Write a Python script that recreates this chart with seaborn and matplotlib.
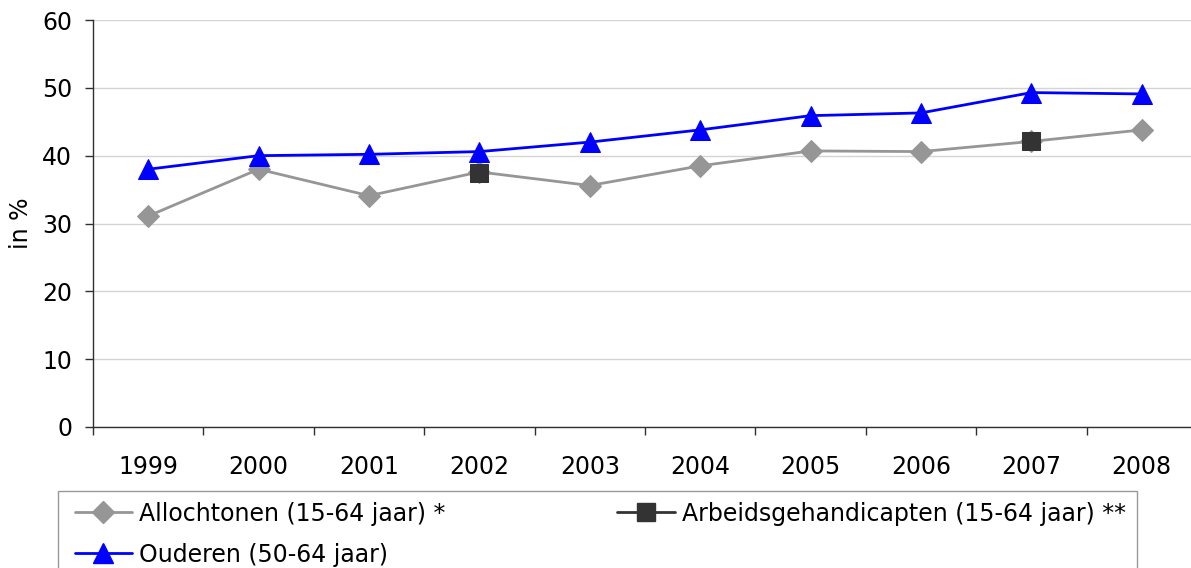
import numpy as np
import pandas as pd
import matplotlib.pyplot as plt
import seaborn as sns
from matplotlib.lines import Line2D
from matplotlib.legend_handler import HandlerLine2D

years = ["1999", "2000", "2001", "2002", "2003", "2004", "2005", "2006", "2007", "2008"]
allochtonen = [31.1, 38.0, 34.1, 37.6, 35.6, 38.5, 40.7, 40.6, 42.1, 43.8]
arbeidsgehandicapten = [np.nan, np.nan, np.nan, 37.5, np.nan, np.nan, np.nan, np.nan, 42.2, np.nan]
ouderen = [38.0, 40.0, 40.2, 40.6, 42.0, 43.8, 45.9, 46.3, 49.3, 49.1]

lbl_allo = "Allochtonen (15-64 jaar) *"
lbl_arb = "Arbeidsgehandicapten (15-64 jaar) **"
lbl_oud = "Ouderen (50-64 jaar)"

df = pd.DataFrame({
    "year": years,
    "allo": allochtonen,
    "arb": arbeidsgehandicapten,
    "oud": ouderen,
})
df["pos"] = range(len(years))

sns.set_style("white")
plt.rcParams["font.family"] = ["DejaVu Sans"]
plt.rcParams["font.size"] = 17
plt.rcParams["text.color"] = "black"
plt.rcParams["axes.labelcolor"] = "black"
plt.rcParams["xtick.labelcolor"] = "black"
plt.rcParams["ytick.labelcolor"] = "black"

c_gray = "#969696"
c_dark = "#333333"
c_blue = "#0000ff"

fig = plt.figure(figsize=(11.91, 5.68), dpi=100)
ax = fig.add_axes([93 / 1191, 141 / 568, 1104 / 1191, 407 / 568])

sns.lineplot(data=df, x="pos", y="allo", ax=ax, color=c_gray, linewidth=2,
             marker="D", markersize=11, markeredgecolor=c_gray, zorder=3)
pts = df.dropna(subset=["arb"])
sns.lineplot(data=pts, x="pos", y="arb", ax=ax, color=c_dark, linestyle="",
             marker="s", markersize=13.5, markeredgecolor=c_dark, zorder=4)
sns.lineplot(data=df, x="pos", y="oud", ax=ax, color=c_blue, linewidth=2,
             marker="^", markersize=14, markeredgecolor=c_blue, zorder=5)

ax.set_xlim(-0.5, len(years) - 0.5)
ax.set_ylim(0, 60)
ax.set_yticks(range(0, 61, 10))
ax.yaxis.grid(True, color="#d4d4d4", linewidth=1)
ax.set_axisbelow(True)

ax.set_xticks(np.arange(-0.5, len(years), 1))
ax.set_xticklabels([])
ax.set_xticks(df["pos"], minor=True)
ax.set_xticklabels(years, minor=True)
ax.tick_params(axis="x", which="major", direction="out", length=6, width=1,
               color="#303030", bottom=True)
ax.tick_params(axis="x", which="minor", length=0, pad=20, labelsize=17)
ax.tick_params(axis="y", direction="out", length=6, width=1, color="#303030",
               left=True, pad=9, labelsize=17)

for s in ["top", "right"]:
    ax.spines[s].set_visible(False)
for s in ["left", "bottom"]:
    ax.spines[s].set_color("#303030")
    ax.spines[s].set_linewidth(1)

ax.set_xlabel("")
ax.set_ylabel("in %", fontsize=17)
ax.yaxis.set_label_coords(-0.054, 0.5)

handles = [
    Line2D([], [], color=c_gray, linewidth=2, marker="D", markersize=11, markeredgecolor=c_gray),
    Line2D([], [], color=c_blue, linewidth=2, marker="^", markersize=14, markeredgecolor=c_blue),
    Line2D([], [], color=c_dark, linewidth=2, marker="s", markersize=13.5, markeredgecolor=c_dark),
]
labels = [lbl_allo, lbl_oud, lbl_arb]
leg = fig.legend(handles, labels, loc="upper left", ncol=2, mode="expand",
                 bbox_to_anchor=(58 / 1191, 0, (1137 - 58) / 1191, 1 - 491 / 568),
                 handler_map={Line2D: HandlerLine2D(xpad=0.25)},
                 frameon=True, fancybox=False, edgecolor="#808080", fontsize=17,
                 handlelength=2.7, handletextpad=0.3, labelspacing=0.72,
                 borderpad=0.45, borderaxespad=0, columnspacing=1.0)
leg.get_frame().set_linewidth(1)

fig.savefig("out.png", dpi=100)
